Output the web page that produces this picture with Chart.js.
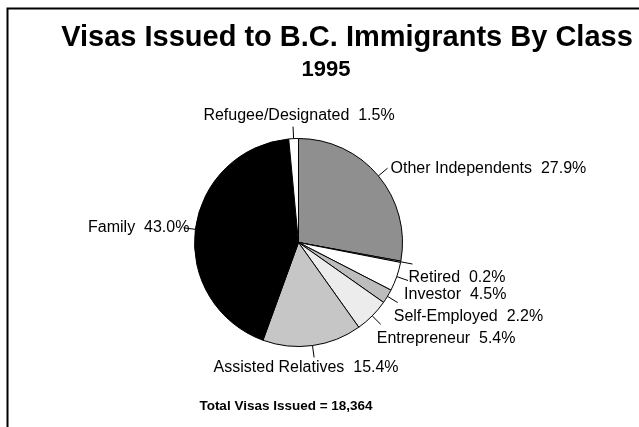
<!DOCTYPE html>
<html>
<head>
<meta charset="utf-8">
<title>Visas Issued to B.C. Immigrants By Class</title>
<script src="https://cdn.jsdelivr.net/npm/chart.js@4.4.1/dist/chart.umd.min.js"></script>
<style>
  html, body { margin: 0; padding: 0; background: #fff; }
  #visaChart { display: block; }
</style>
</head>
<body>
<canvas id="visaChart" width="639" height="427"></canvas>
<script>
// ── Data: 1995 visas by immigrant class (% of total) ───────
const classes = ['Other Independents', 'Retired', 'Investor', 'Self-Employed',
                 'Entrepreneur', 'Assisted Relatives', 'Family', 'Refugee/Designated'];
const shares  = [27.9, 0.2, 4.5, 2.2, 5.4, 15.4, 43.0, 1.5];
const totalVisas = '18,364';

const TITLE = 'Visas Issued to B.C. Immigrants By Class';
const SUBTITLE = '1995';

// greyscale fills, same order as classes
const FILLS = ['#8f8f8f', '#ffffff', '#ffffff', '#bdbdbd', '#ececec', '#c6c6c6', '#000000', '#ffffff'];
const FONT = "'Liberation Sans', Arial, Helvetica, sans-serif";

// ── Frame + headings ───────────────────────────────────────
const framePlugin = {
  id: 'frame',
  beforeDraw(chart) {
    const ctx = chart.ctx;
    ctx.save();
    ctx.fillStyle = '#fff';
    ctx.fillRect(0, 0, chart.width, chart.height);
    ctx.strokeStyle = '#000';
    ctx.lineWidth = 2;
    ctx.beginPath();
    ctx.moveTo(7.5, chart.height);
    ctx.lineTo(7.5, 8.5);
    ctx.lineTo(chart.width, 8.5);
    ctx.stroke();
    ctx.restore();
  },
  afterDraw(chart) {
    const ctx = chart.ctx;
    ctx.save();
    ctx.fillStyle = '#000';
    ctx.textAlign = 'center';
    ctx.textBaseline = 'middle';
    ctx.font = `bold 29px ${FONT}`;
    ctx.fillText(TITLE, 347, 38);
    ctx.font = `bold 22px ${FONT}`;
    ctx.fillText(SUBTITLE, 326, 70);
    ctx.font = `bold 13.5px ${FONT}`;
    ctx.fillText(`Total Visas Issued = ${totalVisas}`, 286, 406);
    ctx.restore();
  }
};

// ── Slice labels with leader lines ─────────────────────────
const leaderLabels = {
  id: 'leaderLabels',
  afterDatasetsDraw(chart) {
    const ctx = chart.ctx;
    const meta = chart.getDatasetMeta(0);
    ctx.save();
    ctx.font = `16px ${FONT}`;
    ctx.fillStyle = '#000';
    ctx.strokeStyle = '#000';
    ctx.lineWidth = 1;
    meta.data.forEach((arc, i) => {
      const { x, y, startAngle, endAngle, outerRadius } = arc.getProps(
        ['x', 'y', 'startAngle', 'endAngle', 'outerRadius'], true);
      const mid = (startAngle + endAngle) / 2;
      const dx = Math.cos(mid), dy = Math.sin(mid);
      const x0 = x + dx * outerRadius, y0 = y + dy * outerRadius;
      const x1 = x + dx * (outerRadius + 12), y1 = y + dy * (outerRadius + 12);
      ctx.beginPath();
      ctx.moveTo(x0, y0);
      ctx.lineTo(x1, y1);
      ctx.stroke();

      const text = `${classes[i]}  ${shares[i].toFixed(1)}%`;
      let tx = x1, ty = y1;
      if (Math.abs(dx) < 0.35) {
        // top / bottom labels sit centred over the leader
        ctx.textAlign = 'center';
        ctx.textBaseline = dy < 0 ? 'bottom' : 'top';
        tx += dy < 0 ? 6 : -8;
        ty += dy < 0 ? -3 : 2;
      } else if (dy > 0.15) {
        // lower right: text hangs below the leader end
        ctx.textAlign = dx > 0 ? 'left' : 'right';
        ctx.textBaseline = 'top';
        tx += dx > 0 ? -4 : 4;
        ty += 6;
      } else {
        ctx.textAlign = dx > 0 ? 'left' : 'right';
        ctx.textBaseline = 'middle';
        tx += dx > 0 ? 3 : 6;
      }
      ctx.fillText(text, tx, ty);
    });
    ctx.restore();
  }
};

new Chart(document.getElementById('visaChart'), {
  type: 'pie',
  data: {
    labels: classes,
    datasets: [{
      data: shares,
      backgroundColor: FILLS,
      borderColor: '#000',
      borderWidth: 1,
    }]
  },
  options: {
    responsive: false,
    animation: false,
    devicePixelRatio: 1,
    layout: { padding: { left: 194, right: 236, top: 138, bottom: 80 } },
    plugins: {
      legend: { display: false },
      tooltip: { enabled: false },
      title: { display: false }
    }
  },
  plugins: [framePlugin, leaderLabels]
});
</script>
</body>
</html>
